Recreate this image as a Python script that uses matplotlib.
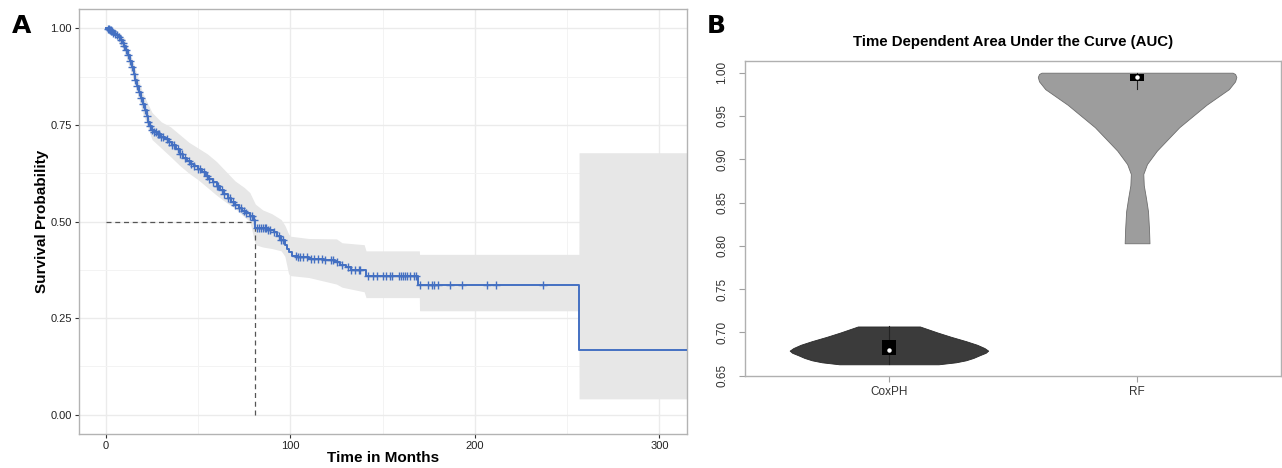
import numpy as np
import matplotlib
matplotlib.use("Agg")
import matplotlib.pyplot as plt

plt.rcParams['font.family'] = ['Liberation Sans', 'DejaVu Sans']

# ---- panel A: Kaplan-Meier curve ----
km_time = [0, 1, 2, 3, 4, 5, 6, 7, 8, 9, 10, 11, 12, 13, 14, 15, 16, 17, 18, 19,
           20, 21, 22, 23, 24, 25, 26, 28, 30, 32, 34, 36, 38, 40, 42, 44, 46, 48,
           50, 52, 54, 56, 58, 60, 62, 64, 66, 68, 70, 72, 74, 76, 78, 80, 81, 84,
           88, 91, 93, 95, 97, 98, 99, 101, 104, 110, 118, 124, 127, 130, 133, 141,
           169, 256.5, 315]
km_surv = [1.000, 0.998, 0.995, 0.992, 0.989, 0.986, 0.982, 0.977, 0.971, 0.963,
           0.955, 0.945, 0.930, 0.915, 0.899, 0.883, 0.867, 0.851, 0.835, 0.819,
           0.804, 0.788, 0.772, 0.758, 0.746, 0.738, 0.732, 0.726, 0.720, 0.714,
           0.705, 0.697, 0.688, 0.675, 0.664, 0.657, 0.650, 0.643, 0.636, 0.627,
           0.618, 0.610, 0.601, 0.591, 0.581, 0.572, 0.562, 0.551, 0.542, 0.535,
           0.528, 0.521, 0.514, 0.505, 0.484, 0.482, 0.477, 0.472, 0.462, 0.452,
           0.440, 0.428, 0.420, 0.412, 0.408, 0.402, 0.400, 0.395, 0.388, 0.381,
           0.375, 0.359, 0.335, 0.168, 0.168]

# confidence band edges (jumps given as repeated times)
band_time = [0, 5, 10, 15, 20, 25, 30, 35, 40, 45, 50, 55, 60, 65, 70, 75, 78, 81,
             85, 90, 95, 97, 99, 100, 110, 125, 128, 140, 141, 169.9, 170, 256.4,
             256.5, 315]
band_low = [1.0, 0.980, 0.940, 0.865, 0.780, 0.712, 0.690, 0.668, 0.645, 0.625,
            0.608, 0.588, 0.568, 0.550, 0.534, 0.512, 0.500, 0.440, 0.434, 0.430,
            0.424, 0.410, 0.365, 0.360, 0.355, 0.338, 0.330, 0.318, 0.303, 0.303,
            0.269, 0.269, 0.041, 0.041]
band_up = [1.0, 0.998, 0.975, 0.910, 0.832, 0.782, 0.758, 0.745, 0.725, 0.705,
           0.690, 0.675, 0.655, 0.630, 0.605, 0.588, 0.575, 0.545, 0.530, 0.520,
           0.505, 0.490, 0.468, 0.462, 0.456, 0.455, 0.445, 0.440, 0.424, 0.424,
           0.415, 0.415, 0.678, 0.678]

censor_time = [1, 1.5, 2, 2.5, 3, 3.5, 4, 5, 6, 7, 8, 9, 10, 11, 12, 13, 14, 15, 16,
               17, 18, 19, 20, 21, 22, 23, 24, 25, 26, 27, 28, 29, 30, 31, 33, 34, 36,
               37, 39, 40, 41, 43, 45, 46, 48, 50, 51, 53, 55, 56, 58, 60, 61, 63, 64,
               66, 67, 69, 70, 72, 73, 75, 76, 78, 79, 80, 82, 83, 84, 85, 86, 87, 88,
               89, 91, 94, 95, 96, 103, 104, 105, 107, 109, 111, 113, 115, 117, 119,
               122, 123, 125, 128, 131, 133, 135, 137, 138, 142, 145, 147, 150, 152,
               154, 155, 159, 160, 161, 162, 163, 165, 167, 168, 170.4, 174.5, 176.7,
               177.8, 180, 186.7, 193, 206.7, 211.6, 237]
median_time = 81

# ---- panel B: violin outlines (y value, half width) ----
groups = ['CoxPH', 'RF']
cox_y = [0.6632, 0.6655, 0.6678, 0.6705, 0.6736, 0.6765, 0.679, 0.682, 0.6858,
         0.690, 0.695, 0.700, 0.7069]
cox_hw = [0.20, 0.27, 0.31, 0.34, 0.365, 0.39, 0.40, 0.385, 0.355, 0.31, 0.25,
          0.195, 0.125]
rf_y = [0.803, 0.820, 0.840, 0.855, 0.870, 0.883, 0.8945, 0.910, 0.925, 0.937,
        0.950, 0.963, 0.973, 0.981, 0.990, 0.995, 0.9985, 1.000]
rf_hw = [0.050, 0.048, 0.044, 0.036, 0.027, 0.025, 0.040, 0.080, 0.130, 0.170,
         0.225, 0.280, 0.330, 0.370, 0.395, 0.400, 0.395, 0.385]
box_q1 = [0.6742, 0.9908]
box_q3 = [0.6912, 0.9985]
box_med = [0.6797, 0.9946]
whisk_lo = [0.6632, 0.981]
whisk_hi = [0.7069, 1.000]
fills = ['#3b3b3b', '#9d9d9d']
edges = ['#2a2a2a', '#6e6e6e']

BLUE = '#4470c2'

fig = plt.figure(figsize=(12.82, 4.68), dpi=100)

# ================= panel A =================
axA = fig.add_axes([79 / 1282, 1 - 434 / 468, 608 / 1282, 425 / 468])
axA.fill_between(band_time, band_low, band_up, color='#e7e7e7', linewidth=0,
                 zorder=1)
axA.step(km_time, km_surv, where='post', color=BLUE, linewidth=1.4, zorder=3)

idx = np.searchsorted(km_time, censor_time, side='right') - 1
cens_s = np.array(km_surv)[idx]
axA.plot(censor_time, cens_s, linestyle='none', marker='+', markersize=5.5,
         markeredgewidth=1.0, color=BLUE, zorder=4)

axA.plot([0, median_time], [0.5, 0.5], linestyle=(0, (4, 3)), color='#555555',
         linewidth=0.9, zorder=2)
axA.plot([median_time, median_time], [0, 0.5], linestyle=(0, (4, 3)),
         color='#555555', linewidth=0.9, zorder=2)

axA.set_xlim(-14.6, 315)
axA.set_ylim(-0.05, 1.05)
axA.set_xticks([0, 100, 200, 300])
axA.set_xticks([50, 150, 250], minor=True)
axA.set_yticks([0, 0.25, 0.5, 0.75, 1.0])
axA.set_yticks([0.125, 0.375, 0.625, 0.875], minor=True)
axA.set_yticklabels(['0.00', '0.25', '0.50', '0.75', '1.00'])
axA.grid(True, which='major', color='#ebebeb', linewidth=1.0, zorder=0)
axA.grid(True, which='minor', color='#f3f3f3', linewidth=0.7, zorder=0)
axA.set_axisbelow(True)
for sp in axA.spines.values():
    sp.set_color('#b3b3b3')
    sp.set_linewidth(1.0)
axA.tick_params(axis='both', which='major', length=3, width=0.8, color='#333333',
                labelsize=8, labelcolor='#222222', pad=2)
axA.tick_params(axis='both', which='minor', length=0)
axA.set_xlabel('Time in Months', fontsize=11, fontweight='bold', labelpad=0)
axA.set_ylabel('Survival Probability', fontsize=11, fontweight='bold', labelpad=1)

fig.text(12 / 1282, 1 - 33 / 468, 'A', fontsize=18, fontweight='bold',
         family='DejaVu Sans', color='black')

# ================= panel B =================
axB = fig.add_axes([745 / 1282, 1 - 376 / 468, 536 / 1282, 315 / 468])
centers = [1, 2]
outlines = [(cox_y, cox_hw), (rf_y, rf_hw)]
for i, (yy, hw) in enumerate(outlines):
    yy = np.array(yy)
    hw = np.array(hw)
    c = centers[i]
    axB.fill_betweenx(yy, c - hw, c + hw, color=fills[i], edgecolor=edges[i],
                      linewidth=0.6, zorder=2)
    axB.plot([c, c], [whisk_lo[i], whisk_hi[i]], color='#222222', linewidth=0.8,
             zorder=3)
    axB.bar(c, box_q3[i] - box_q1[i], bottom=box_q1[i], width=0.055,
            color='black', zorder=4)
    axB.plot(c, box_med[i], marker='o', markersize=3.2, color='white',
             markeredgewidth=0, linestyle='none', zorder=5)

axB.set_xlim(0.42, 2.58)
axB.set_ylim(0.6497, 1.0135)
axB.set_xticks(centers)
axB.set_xticklabels(groups)
axB.set_yticks([0.65, 0.70, 0.75, 0.80, 0.85, 0.90, 0.95, 1.00])
axB.set_yticklabels(['0.65', '0.70', '0.75', '0.80', '0.85', '0.90', '0.95', '1.00'],
                    rotation=90, va='center')
for sp in axB.spines.values():
    sp.set_color('#b0b0b0')
    sp.set_linewidth(1.0)
axB.tick_params(axis='both', length=4, width=0.8, color='#a0a0a0',
                labelsize=8.5, labelcolor='#333333')
axB.tick_params(axis='x', pad=3)
axB.tick_params(axis='y', pad=8)
axB.set_title('Time Dependent Area Under the Curve (AUC)', fontsize=10.8,
              fontweight='bold', pad=11)

fig.text(707 / 1282, 1 - 33 / 468, 'B', fontsize=18, fontweight='bold',
         family='DejaVu Sans', color='black')

fig.savefig('out.png', dpi=100)
